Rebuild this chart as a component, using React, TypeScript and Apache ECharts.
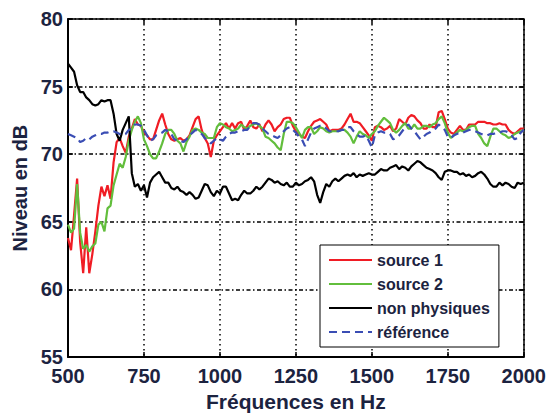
import React, { useEffect, useRef } from "react";
import * as echarts from "echarts";

const freqs = [
  500, 510, 520, 530, 540, 550, 560, 570, 580, 590,
  600, 610, 620, 630, 640, 650, 660, 670, 680, 690,
  700, 710, 720, 730, 740, 750, 760, 770, 780, 790,
  800, 810, 820, 830, 840, 850, 860, 870, 880, 890,
  900, 910, 920, 930, 940, 950, 960, 970, 980, 990,
  1000, 1010, 1020, 1030, 1040, 1050, 1060, 1070, 1080, 1090,
  1100, 1110, 1120, 1130, 1140, 1150, 1160, 1170, 1180, 1190,
  1200, 1210, 1220, 1230, 1240, 1250, 1260, 1270, 1280, 1290,
  1300, 1310, 1320, 1330, 1340, 1350, 1360, 1370, 1380, 1390,
  1400, 1410, 1420, 1430, 1440, 1450, 1460, 1470, 1480, 1490,
  1500, 1510, 1520, 1530, 1540, 1550, 1560, 1570, 1580, 1590,
  1600, 1610, 1620, 1630, 1640, 1650, 1660, 1670, 1680, 1690,
  1700, 1710, 1720, 1730, 1740, 1750, 1760, 1770, 1780, 1790,
  1800, 1810, 1820, 1830, 1840, 1850, 1860, 1870, 1880, 1890,
  1900, 1910, 1920, 1930, 1940, 1950, 1960, 1970, 1980, 1990,
  2000,
];

const source1 = [
  63.8, 62.9, 65.5, 68.2, 63.5, 61.2, 64.6, 61.2, 62.6, 64.3,
  66.2, 67.6, 66.9, 67.7, 66.7, 69.4, 70.9, 71.2, 70.6, 70.1,
  71.3, 71.9, 72.6, 72.2, 72.1, 71.6, 71.4, 71.1, 71.1, 71.8,
  72.5, 73.0, 72.2, 71.5, 71.1, 71.0, 71.1, 71.2, 71.0, 71.1,
  71.4, 72.0, 72.6, 72.8, 71.8, 71.2, 70.8, 69.8, 71.0, 71.4,
  71.7, 72.0, 72.3, 71.9, 72.3, 71.9, 72.3, 72.4, 71.8, 72.1,
  72.5, 72.0, 71.9, 72.2, 71.7, 72.2, 72.5, 72.2, 71.7, 72.0,
  72.2, 72.6, 72.7, 72.7, 72.1, 71.7, 71.5, 71.3, 71.2, 71.7,
  72.1, 72.4, 72.5, 72.6, 72.4, 72.2, 71.7, 71.8, 71.8, 71.8,
  71.9, 72.2, 72.6, 73.0, 72.4, 72.4, 72.3, 72.0, 71.7, 71.4,
  71.0, 72.0, 72.1, 72.0, 71.8, 71.9, 72.1, 71.7, 71.9, 72.6,
  72.4, 72.2, 72.7, 72.9, 72.8, 72.5, 72.3, 71.9, 71.9, 72.2,
  72.0, 72.0, 73.1, 73.2, 72.6, 71.9, 71.6, 71.5, 71.8, 72.1,
  71.8, 71.8, 72.2, 72.2, 72.2, 72.4, 72.4, 72.4, 72.3, 72.3,
  72.2, 72.2, 72.3, 72.2, 72.2, 71.8, 71.6, 71.5, 71.7, 71.9,
  71.9,
];

const source2 = [
  64.8, 64.2, 64.5, 67.8, 64.2, 63.0, 63.3, 62.8, 63.2, 63.4,
  64.8, 65.0, 64.3, 66.0, 66.2, 67.7, 68.5, 69.3, 69.0, 69.8,
  71.0, 71.8, 72.4, 72.8, 72.3, 71.1, 70.6, 70.0, 69.7, 69.7,
  70.2, 70.8, 71.5, 71.8, 71.8, 71.5, 71.0, 70.8, 70.2, 70.9,
  71.3, 71.8, 71.9, 71.8, 71.6, 71.5, 71.2, 71.2, 71.2, 72.0,
  72.3, 72.2, 72.0, 71.9, 71.7, 71.8, 71.9, 72.2, 72.0, 71.9,
  72.1, 72.2, 72.3, 72.1, 71.9, 71.3, 71.2, 71.0, 70.8, 70.5,
  70.3, 71.5, 72.4, 72.4, 72.3, 72.0, 71.6, 71.2, 71.8, 72.0,
  72.0, 71.5, 71.7, 72.0, 71.9, 71.7, 71.6, 71.7, 71.7, 71.7,
  71.8, 71.8, 71.6, 71.3, 70.8, 71.3, 71.7, 71.5, 71.4, 71.2,
  71.5, 71.7, 72.1, 72.4, 72.7, 72.5, 72.3, 71.8, 71.6, 71.8,
  72.1, 72.3, 71.9, 71.9, 72.2, 71.9, 71.9, 72.1, 72.1, 72.0,
  72.2, 72.3, 72.6, 72.8, 72.3, 71.6, 71.2, 71.4, 71.6, 71.8,
  71.7, 71.8, 72.0, 72.1, 72.1, 71.5, 71.2, 70.8, 70.6, 71.3,
  71.9, 71.9, 71.7, 71.5, 71.4, 71.2, 71.3, 71.5, 71.6, 71.7,
  71.8,
];

const nonPhysiques = [
  76.7, 76.4, 76.1, 75.1, 74.6, 74.6, 74.2, 74.0, 73.7, 73.6,
  73.7, 74.0, 73.9, 74.0, 74.0, 73.0, 71.5, 71.0, 71.8, 72.3,
  72.8, 68.6, 67.6, 67.8, 67.3, 67.7, 66.8, 67.9, 68.3, 68.5,
  68.7, 68.3, 67.9, 67.9, 67.5, 67.4, 67.6, 67.3, 67.2, 67.0,
  67.2, 67.0, 66.7, 66.8, 67.3, 67.8, 67.7, 67.2, 66.9, 67.3,
  67.1, 67.6, 67.6, 67.1, 66.6, 66.7, 66.6, 67.0, 67.3, 67.1,
  67.1, 67.3, 67.6, 67.4, 67.6, 67.9, 68.2, 68.1, 67.9, 68.0,
  67.8, 67.7, 67.9, 67.6, 67.6, 67.9, 67.7, 67.8, 68.0, 68.1,
  68.3, 68.0, 67.0, 66.4, 67.2, 67.8, 67.6, 68.0, 68.2, 68.0,
  68.2, 68.4, 68.5, 68.4, 68.6, 68.3, 68.5, 68.4, 68.5, 68.6,
  68.5, 68.5, 68.7, 68.9, 68.8, 68.8, 69.0, 69.1, 69.2, 68.9,
  69.1, 69.0, 68.8, 69.1, 69.3, 69.5, 69.4, 69.2, 69.0, 68.9,
  68.8, 68.6, 68.3, 68.1, 68.7, 68.8, 68.8, 68.7, 68.7, 68.5,
  68.6, 68.4, 68.5, 68.3, 68.4, 68.6, 68.7, 68.5, 68.2, 67.8,
  67.6, 67.6, 67.9, 67.7, 67.9, 67.8, 67.6, 67.5, 67.9, 67.8,
  67.9,
];

const reference = [
  71.5, 71.4, 71.3, 71.2, 70.9, 71.0, 71.2, 71.1, 71.3, 71.4,
  71.5, 71.5, 71.6, 71.6, 71.7, 71.7, 71.6, 71.5, 71.4, 71.5,
  71.8, 71.9, 72.2, 72.2, 72.1, 71.8, 71.4, 71.0, 71.1, 71.4,
  71.5, 71.6, 71.8, 71.7, 71.5, 71.1, 71.0, 71.0, 70.9, 71.1,
  71.4, 71.6, 71.8, 71.7, 71.5, 71.2, 71.0, 70.8, 71.0, 71.2,
  71.1, 71.0, 71.3, 71.5, 71.6, 71.6, 71.7, 71.7, 71.8, 71.8,
  72.1, 72.3, 72.3, 72.2, 71.9, 71.7, 71.5, 71.4, 71.3, 71.2,
  71.4, 71.7, 71.9, 72.0, 71.8, 71.6, 71.3, 71.1, 70.6, 71.1,
  71.6, 71.9, 72.0, 72.1, 72.1, 71.9, 71.7, 71.7, 71.7, 71.7,
  71.8, 71.8, 72.0, 72.0, 71.7, 71.5, 71.3, 71.3, 71.4, 71.0,
  70.5, 71.4, 71.6, 71.7, 71.6, 71.6, 71.5, 71.1, 71.2, 71.4,
  71.7, 72.0, 72.2, 71.9, 71.7, 71.4, 71.1, 71.3, 71.5, 71.6,
  71.8, 71.9, 72.2, 72.0, 71.8, 71.3, 71.2, 71.4, 71.5, 71.6,
  71.6, 71.7, 71.8, 71.8, 71.7, 71.6, 71.5, 71.4, 71.4, 71.5,
  71.5, 71.6, 71.6, 71.7, 71.7, 71.6, 71.4, 71.1, 71.2, 71.6,
  71.8,
];

const seriesNames = ["source 1", "source 2", "non physiques", "référence"];
const seriesColors = ["#f01c24", "#62be3c", "#000000", "#3a4db4"];
const seriesValues = [source1, source2, nonPhysiques, reference];

const xTitle = "Fréquences en Hz";
const yTitle = "Niveau en dB";

const FONT = "'Liberation Sans', Arial, sans-serif";
const LABEL_COLOR = "#1c2340";

export default function App() {
  const ref = useRef<HTMLDivElement>(null);

  useEffect(() => {
    if (!ref.current) return;
    const chart = echarts.init(ref.current, undefined, { renderer: "svg" });

    const series = seriesNames.map((name, i) => ({
      name,
      type: "line",
      xAxisIndex: 0,
      yAxisIndex: 0,
      symbol: "none",
      data: freqs.map((f, j) => [f, seriesValues[i][j]]),
      lineStyle: {
        color: seriesColors[i],
        width: 2.2,
        type: i === 3 ? [8, 5] : "solid",
      },
      itemStyle: { color: seriesColors[i] },
    }));

    chart.setOption({
      animation: false,
      backgroundColor: "#ffffff",
      grid: { left: 68, right: 25, top: 19, bottom: 53, containLabel: false },
      legend: {
        orient: "vertical",
        left: 320,
        top: 245,
        data: seriesNames,
        itemWidth: 43,
        itemHeight: 14,
        itemGap: 8,
        padding: [7, 9, 7, 8],
        backgroundColor: "#ffffff",
        borderColor: "#000000",
        borderWidth: 1,
        borderRadius: 0,
        itemStyle: { opacity: 0 },
        textStyle: {
          fontFamily: FONT,
          fontWeight: "bold",
          fontSize: 16,
          color: LABEL_COLOR,
        },
      },
      xAxis: [
        {
          type: "value",
          min: 500,
          max: 2000,
          interval: 250,
          name: xTitle,
          nameLocation: "middle",
          nameGap: 32,
          nameTextStyle: {
            fontFamily: FONT,
            fontWeight: "bold",
            fontSize: 21,
            color: LABEL_COLOR,
          },
          axisLine: { show: true, lineStyle: { color: "#000", width: 2 } },
          axisTick: { show: true, inside: true, length: 5, lineStyle: { color: "#000", width: 1.5 } },
          axisLabel: {
            fontFamily: FONT,
            fontWeight: "bold",
            fontSize: 20,
            color: LABEL_COLOR,
            margin: 9,
            formatter: (v: number) => String(v),
          },
          splitLine: {
            show: true,
            lineStyle: { color: "#000", width: 1.5, type: [1.5, 3.5] },
          },
        },
        {
          type: "value",
          position: "top",
          min: 500,
          max: 2000,
          interval: 250,
          axisLine: { show: true, lineStyle: { color: "#000", width: 1.5 } },
          axisTick: { show: true, inside: true, length: 5, lineStyle: { color: "#000", width: 1.5 } },
          axisLabel: { show: false },
          splitLine: { show: false },
        },
      ],
      yAxis: [
        {
          type: "value",
          min: 55,
          max: 80,
          interval: 5,
          name: yTitle,
          nameLocation: "middle",
          nameGap: 25,
          nameTextStyle: {
            fontFamily: FONT,
            fontWeight: "bold",
            fontSize: 20,
            color: LABEL_COLOR,
          },
          axisLine: { show: true, lineStyle: { color: "#000", width: 2 } },
          axisTick: { show: true, inside: true, length: 5, lineStyle: { color: "#000", width: 1.5 } },
          axisLabel: {
            fontFamily: FONT,
            fontWeight: "bold",
            fontSize: 20,
            color: LABEL_COLOR,
            margin: 5,
          },
          splitLine: {
            show: true,
            lineStyle: { color: "#000", width: 1.5, type: [4, 2.5, 1.5, 2.5] },
          },
        },
        {
          type: "value",
          position: "right",
          min: 55,
          max: 80,
          interval: 5,
          axisLine: { show: true, lineStyle: { color: "#000", width: 1.5 } },
          axisTick: { show: true, inside: true, length: 5, lineStyle: { color: "#000", width: 1.5 } },
          axisLabel: { show: false },
          splitLine: { show: false },
        },
      ],
      series,
    });

    return () => chart.dispose();
  }, []);

  return (
    <div
      ref={ref}
      style={{ position: "fixed", left: 0, top: 0, width: 549, height: 417 }}
    />
  );
}
